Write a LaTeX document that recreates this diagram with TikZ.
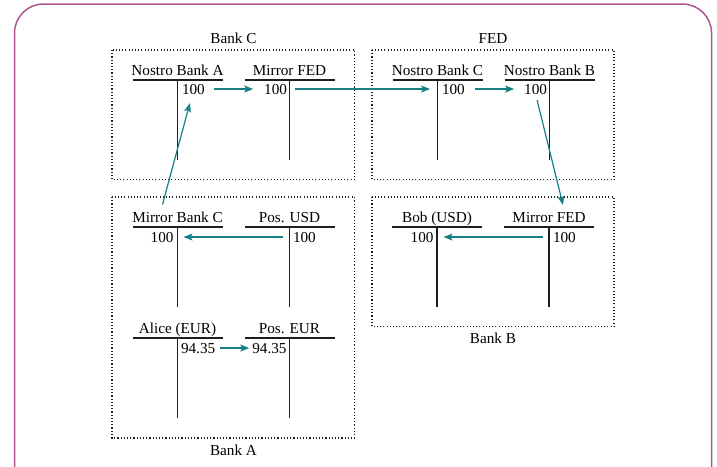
\documentclass[tikz,border=0pt]{standalone}
\usepackage{fontspec}
\setmainfont{Liberation Serif}
\usetikzlibrary{arrows.meta,calc}
\definecolor{framecol}{RGB}{172,88,142}
\definecolor{flow}{RGB}{22,128,130}
\definecolor{inkline}{RGB}{30,30,30}

% T-account: name, title, centre x, y of the top rule
\newcommand\taccount[4]{%
  \node[ttitle] (#1-t) at (#3,#4-5) {#2};
  \coordinate (#1-l) at (#3-45,#4);
  \coordinate (#1-r) at (#3+45,#4);
  \coordinate (#1-top) at (#3,#4);
  \coordinate (#1-bot) at (#3,#4+80);
  \draw[tline] (#1-l) -- (#1-r);
  \draw[tline] (#1-top) -- (#1-bot);
}

\tikzset{
  every node/.style={font=\fontsize{15.2}{18}\selectfont, inner sep=0pt, outer sep=0pt},
  ttitle/.style={anchor=base},
  banklabel/.style={anchor=base},
  tline/.style={draw=inkline, line width=1.3pt},
  bankbox/.style={draw=inkline, line width=1.2pt, dash pattern=on 1.1pt off 2.1pt},
  cr/.style={anchor=base west},
  dr/.style={anchor=base east},
  flowarrow/.style={draw=flow, line width=1.2pt, -{Stealth[length=9pt,width=7pt,inset=2pt]}},
}

\begin{document}
\begin{tikzpicture}[x=1pt, y=-1pt]
  \useasboundingbox (0,0) rectangle (717,466);
  \clip (0,0) rectangle (717,466);

  % outer frame, open at the bottom
  \draw[framecol, line width=1.5pt, rounded corners=29pt]
    (14.5,490) -- (14.5,4) -- (711.5,4) -- (711.5,490);

  % bank boxes
  \draw[bankbox] (112,50) rectangle (354.5,179.5);
  \draw[bankbox] (372,50) rectangle (614,179.5);
  \draw[bankbox] (112,197) rectangle (354.5,438);
  \draw[bankbox] (372,197) rectangle (614,326.5);

  \node[banklabel] (lblC) at (233.5,43) {Bank C};
  \node[banklabel] (lblF) at (493,43) {FED};
  \node[banklabel] (lblA) at (233.5,455) {Bank A};
  \node[banklabel] (lblB) at (493,343) {Bank B};

  % Bank C
  \taccount{nbA}{Nostro Bank A}{177.5}{80}
  \taccount{mfC}{Mirror FED}{289.5}{80}
  \node[cr] (nbA-e) at (182,94) {100};
  \node[dr] (mfC-e) at (287,94) {100};

  % FED
  \taccount{nbC}{Nostro Bank C}{437.5}{80}
  \taccount{nbB}{Nostro Bank B}{549.5}{80}
  \node[cr] (nbC-e) at (442,94) {100};
  \node[dr] (nbB-e) at (547,94) {100};

  % Bank B
  \taccount{bob}{Bob (USD)}{437}{227}
  \taccount{mfB}{Mirror FED}{549}{227}
  \node[dr] (bob-e) at (433.5,242) {100};
  \node[cr] (mfB-e) at (553,242) {100};

  % Bank A
  \taccount{mbC}{Mirror Bank C}{177.5}{227}
  \taccount{pusd}{Pos. USD}{289.5}{227}
  \node[dr] (mbC-e) at (173.5,242) {100};
  \node[cr] (pusd-e) at (293,242) {100};

  \taccount{alice}{Alice (EUR)}{177.5}{338}
  \taccount{peur}{Pos. EUR}{289.5}{338}
  \node[cr] (alice-e) at (181,353) {94.35};
  \node[dr] (peur-e) at (286.5,353) {94.35};

  % flow of the payment
  \draw[flowarrow] ($(nbA-e.east)+(9,0)$) -- ($(mfC-e.west)+(-11,0)$);
  \draw[flowarrow] ($(mfC-e.east)+(8,0)$) -- ($(nbC-e.west)+(-12,0)$);
  \draw[flowarrow] ($(nbC-e.east)+(10,0)$) -- ($(nbB-e.west)+(-10,0)$);
  \draw[flowarrow] ($(nbB-e.south)+(1.5,6)$) -- ($(mfB-t.north)+(14,-7)$);
  \draw[flowarrow] ($(mfB-e.west)+(-10,0)$) -- ($(bob-e.east)+(10,0)$);
  \draw[flowarrow] ($(pusd-e.west)+(-10,0)$) -- ($(mbC-e.east)+(10,0)$);
  \draw[flowarrow] ($(alice-e.east)+(5,0)$) -- ($(peur-e.west)+(-3,0)$);
  \draw[flowarrow] ($(mbC-t.north)+(-15,-7)$) -- ($(nbA-e.south)+(-3.5,9)$);
\end{tikzpicture}
\end{document}
